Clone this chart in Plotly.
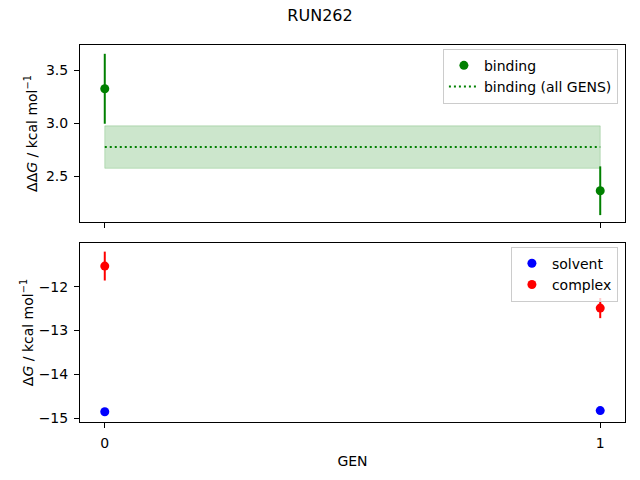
import plotly.graph_objects as go
from plotly.subplots import make_subplots

# data
gens = [0, 1]
binding = [3.326, 2.364]
binding_err = [0.33, 0.23]
binding_all = 2.776
binding_all_err = 0.20
solvent = [-14.856, -14.83]
solvent_err = [0.0, 0.0]
complex_ = [-11.527, -12.487]
complex_err = [0.33, 0.23]

green = '#008000'
font = 'DejaVu Sans'

fig = make_subplots(rows=2, cols=1, shared_xaxes=True)

# band for the all-GENS estimate
band_x = [gens[0], gens[-1], gens[-1], gens[0], gens[0]]
band_y = [binding_all - binding_all_err, binding_all - binding_all_err,
          binding_all + binding_all_err, binding_all + binding_all_err,
          binding_all - binding_all_err]
fig.add_trace(go.Scatter(
    x=band_x, y=band_y, mode='lines', fill='toself',
    fillcolor='rgba(0,128,0,0.2)', line=dict(color='rgba(0,128,0,0.2)', width=1),
    showlegend=False, hoverinfo='skip'), row=1, col=1)

fig.add_trace(go.Scatter(
    x=gens, y=binding, mode='markers', name='binding',
    marker=dict(color=green, size=9),
    error_y=dict(type='data', array=binding_err, color=green, thickness=2, width=0),
    legend='legend'), row=1, col=1)

fig.add_trace(go.Scatter(
    x=[gens[0], gens[-1]], y=[binding_all, binding_all], mode='lines',
    name='binding (all GENS)', line=dict(color=green, dash='2px,3px', width=2),
    legend='legend'), row=1, col=1)

fig.add_trace(go.Scatter(
    x=gens, y=solvent, mode='markers', name='solvent',
    marker=dict(color='blue', size=9),
    error_y=dict(type='data', array=solvent_err, color='blue', thickness=2, width=0),
    legend='legend2'), row=2, col=1)

fig.add_trace(go.Scatter(
    x=gens, y=complex_, mode='markers', name='complex',
    marker=dict(color='red', size=9),
    error_y=dict(type='data', array=complex_err, color='red', thickness=2, width=0),
    legend='legend2'), row=2, col=1)

tick_font = dict(family=font, size=14, color='black')
axis_style = dict(showline=True, linecolor='black', linewidth=1, mirror=True,
                  ticks='outside', ticklen=5, tickcolor='black', showgrid=False,
                  zeroline=False, automargin=False, ticklabelstandoff=3)

fig.update_layout(
    width=640, height=480,
    paper_bgcolor='white', plot_bgcolor='white',
    font=dict(family=font, size=14, color='black'),
    margin=dict(l=80, r=15, t=45, b=58),
    title=dict(text='RUN262', x=0.5, xref='container', xanchor='center',
               yref='container', y=0.967, yanchor='middle',
               font=dict(family=font, size=16, color='black')),
    xaxis=dict(axis_style, domain=[0, 1], range=[-0.05, 1.05], tickvals=gens,
               showticklabels=False, tickfont=tick_font),
    xaxis2=dict(axis_style, domain=[0, 1], range=[-0.05, 1.05], tickvals=gens,
                tickfont=tick_font,
                title=dict(text='GEN', standoff=6, font=tick_font)),
    yaxis=dict(axis_style, domain=[0.5305, 1], range=[2.069, 3.739],
               tickvals=[2.5, 3.0, 3.5], tickformat='.1f', tickfont=tick_font,
               title=dict(text='ΔΔ<i>G</i> / kcal mol<sup>−1</sup>', standoff=5,
                          font=tick_font)),
    yaxis2=dict(axis_style, domain=[0, 0.4748], range=[-15.09, -11.0],
                tickvals=[-15, -14, -13, -12], tickfont=tick_font,
                title=dict(text='Δ<i>G</i> / kcal mol<sup>−1</sup>', standoff=1,
                           font=tick_font)),
    legend=dict(x=0.987, y=0.99, xanchor='right', yanchor='top',
                bordercolor='#cccccc', borderwidth=1, bgcolor='rgba(255,255,255,0.8)',
                font=dict(family=font, size=14, color='black')),
    legend2=dict(x=0.987, y=0.465, xanchor='right', yanchor='top',
                 bordercolor='#cccccc', borderwidth=1, bgcolor='rgba(255,255,255,0.8)',
                 font=dict(family=font, size=14, color='black')),
)

# the page body has a default 8px margin; drop it so the figure sits at 0,0
fig.write_html("out.html", config={'displayModeBar': False},
               post_script="document.body.style.margin='0';")
